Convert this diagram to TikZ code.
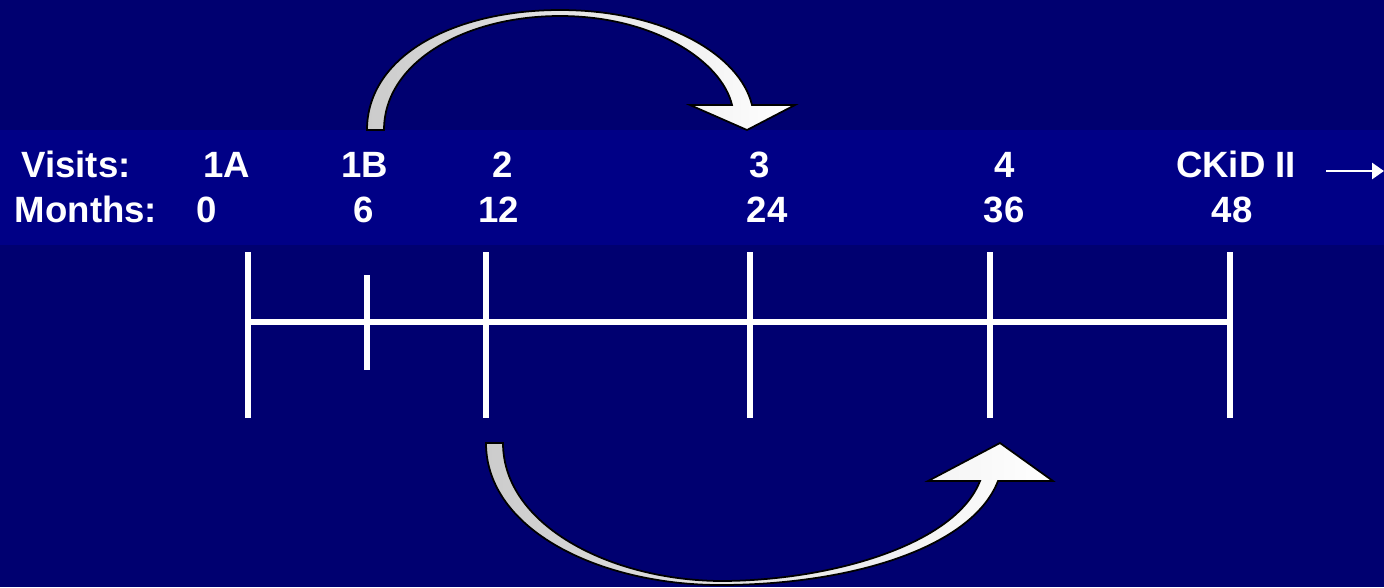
\documentclass[tikz,border=0pt]{standalone}
\usepackage{fontspec}
\setmainfont{Liberation Sans}
\usetikzlibrary{arrows.meta}
\definecolor{navybg}{RGB}{0,0,112}
\definecolor{navyband}{RGB}{0,0,134}
\begin{document}
\begin{tikzpicture}[x=0.01cm, y=-0.01cm, >=stealth,
    lbl/.style={text=white, font=\fontsize{10.4}{12}\selectfont\bfseries, anchor=base},
    tickline/.style={white, line width=1.7pt},
    curvearrow/.style={draw=black, line width=0.5pt, left color=gray!40, right color=white}]
    % background and band
    \fill[navybg] (0,0) rectangle (1384,587);
    \useasboundingbox (0,0) rectangle (1384,587);
    \fill[navyband] (0,130) rectangle (1384,245);

    % visits row
    \node[lbl] (visits) at (76,177) {Visits:};
    \node[lbl] (v1a) at (227,177) {1A};
    \node[lbl] (v1b) at (365,177) {1B};
    \node[lbl] (v2) at (503,177) {2};
    \node[lbl] (v3) at (760,177) {3};
    \node[lbl] (v4) at (1005,177) {4};
    \node[lbl] (vckid) at (1236,177) {CKiD II};

    % months row
    \node[lbl] (months) at (86,222) {Months:};
    \node[lbl] (m0) at (207,222) {0};
    \node[lbl] (m6) at (364,222) {6};
    \node[lbl] (m12) at (499,222) {12};
    \node[lbl] (m24) at (767,222) {24};
    \node[lbl] (m36) at (1004,222) {36};
    \node[lbl] (m48) at (1232,222) {48};

    % arrow to the next study
    \coordinate (nxtA) at (1326,171);
    \coordinate (nxtB) at (1384,171);
    \draw[-{Triangle[length=0.12cm,width=0.16cm]}, white, line width=0.8pt] (nxtA) -- (nxtB);

    % timeline
    \draw[tickline] (248,322) -- (1230,322);
    \foreach \x in {248,486,750,990,1230}
        \draw[tickline] (\x,252) -- (\x,418);
    \draw[tickline] (367,275) -- (367,370);

    % curved arrows
    \path[curvearrow] (367,130) .. controls (367,55) and (455,10) .. (560,10)
        .. controls (665,10) and (740,55) .. (752,105) -- (795,105) -- (747,130)
        -- (690,105) -- (732,105) .. controls (722,62) and (655,16) .. (560,16)
        .. controls (465,16) and (384,62) .. (384,130) -- cycle;
    \path[curvearrow] (486,443) -- (503,443) .. controls (503,525) and (610,580) .. (720,581)
        .. controls (830,581) and (955,545) .. (980,481) -- (928,481) -- (1000,443)
        -- (1053,481) -- (998,481) .. controls (972,548) and (850,585) .. (720,585)
        .. controls (600,585) and (486,530) .. (486,443) -- cycle;
\end{tikzpicture}
\end{document}
